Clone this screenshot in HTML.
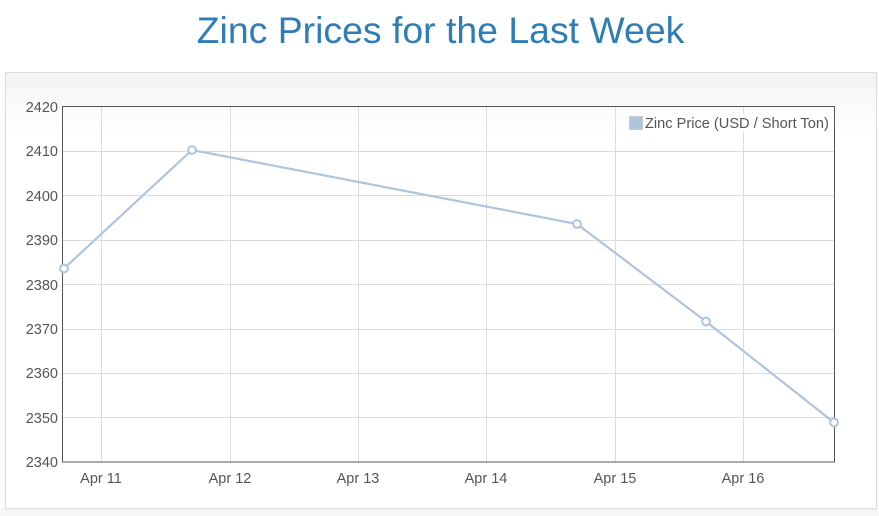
<!DOCTYPE html>
<html>
<head>
<meta charset="utf-8">
<style>
  html,body{margin:0;padding:0;background:#fff;}
  body{width:879px;height:516px;overflow:hidden;position:relative;font-family:"Liberation Sans",Arial,sans-serif;}
  .outer{position:absolute;left:0;top:508px;width:879px;height:8px;background:#f7f7f7;}
  .panel{position:absolute;left:5px;top:72px;width:870px;height:435px;border:1px solid #dcdcdc;
    background:linear-gradient(to bottom,#f3f3f3 0px,#fafafa 30px,#ffffff 60px,#ffffff 100%);
    box-shadow:0 1px 2px rgba(0,0,0,0.05);}
  svg{position:absolute;left:0;top:0;}
</style>
</head>
<body>
<div class="outer"></div>
<div class="panel"></div>
<svg width="879" height="516" viewBox="0 0 879 516" xmlns="http://www.w3.org/2000/svg">
  <text x="440.5" y="43" text-anchor="middle" font-family="Liberation Sans, Arial, sans-serif" font-size="37.4" fill="#2f7db6">Zinc Prices for the Last Week</text>

  <!-- horizontal grid -->
  <g stroke="#dcdcdc" stroke-width="1">
    <line x1="63" y1="151.5" x2="835" y2="151.5"/>
    <line x1="63" y1="195.5" x2="835" y2="195.5"/>
    <line x1="63" y1="240.5" x2="835" y2="240.5"/>
    <line x1="63" y1="284.5" x2="835" y2="284.5"/>
    <line x1="63" y1="329.5" x2="835" y2="329.5"/>
    <line x1="63" y1="373.5" x2="835" y2="373.5"/>
    <line x1="63" y1="417.5" x2="835" y2="417.5"/>
    <!-- vertical grid -->
    <line x1="101.5" y1="107" x2="101.5" y2="462"/>
    <line x1="230.5" y1="107" x2="230.5" y2="462"/>
    <line x1="358.5" y1="107" x2="358.5" y2="462"/>
    <line x1="486.5" y1="107" x2="486.5" y2="462"/>
    <line x1="615.5" y1="107" x2="615.5" y2="462"/>
    <line x1="743.5" y1="107" x2="743.5" y2="462"/>
  </g>

  <!-- plot border -->
  <rect x="62.5" y="106.5" width="772" height="355.5" fill="none" stroke="#555" stroke-width="1"/>

  <!-- y labels -->
  <g font-family="Liberation Sans, Arial, sans-serif" font-size="14.5" fill="#555" text-anchor="end">
    <text x="58" y="112">2420</text>
    <text x="58" y="156">2410</text>
    <text x="58" y="201">2400</text>
    <text x="58" y="245">2390</text>
    <text x="58" y="290">2380</text>
    <text x="58" y="334">2370</text>
    <text x="58" y="378">2360</text>
    <text x="58" y="423">2350</text>
    <text x="58" y="467">2340</text>
  </g>

  <!-- x labels -->
  <g font-family="Liberation Sans, Arial, sans-serif" font-size="14.5" fill="#555" text-anchor="middle">
    <text x="101" y="483">Apr 11</text>
    <text x="230" y="483">Apr 12</text>
    <text x="358" y="483">Apr 13</text>
    <text x="486" y="483">Apr 14</text>
    <text x="615" y="483">Apr 15</text>
    <text x="743" y="483">Apr 16</text>
  </g>

  <!-- legend -->
  <rect x="626" y="113" width="206" height="20" fill="#ffffff" fill-opacity="0.75"/>
  <rect x="629.5" y="116.5" width="13" height="13" fill="#b0c4de" stroke="#cccccc" stroke-width="1"/>
  <text x="645" y="128" font-family="Liberation Sans, Arial, sans-serif" font-size="14.6" fill="#555">Zinc Price (USD / Short Ton)</text>

  <!-- series -->
  <polyline points="64,268.5 192,150 577,224 706,321.5 834,422.5" fill="none" stroke="#b0c4de" stroke-width="2.2" stroke-linejoin="round"/>
  <g fill="#ffffff" stroke="#b0c4de" stroke-width="2">
    <circle cx="64" cy="268.5" r="3.9"/>
    <circle cx="192" cy="150" r="3.9"/>
    <circle cx="577" cy="224" r="3.9"/>
    <circle cx="706" cy="321.5" r="3.9"/>
    <circle cx="834" cy="422.5" r="3.9"/>
  </g>
</svg>
</body>
</html>
